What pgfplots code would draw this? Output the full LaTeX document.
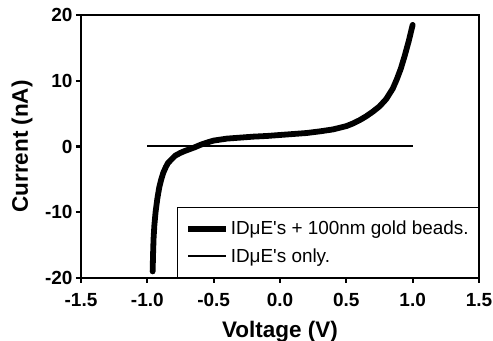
\documentclass[border=0pt]{standalone}
\usepackage{fontspec}
\setmainfont{Liberation Sans}[Ligatures=TeXOff]
\usepackage{pgfplots}
\pgfplotsset{compat=1.18}
\begin{document}
\begin{tikzpicture}
\begin{axis}[
  name=ax,
  scale only axis,
  width=398pt, height=263pt,
  xmin=-1.5, xmax=1.5, ymin=-20, ymax=20,
  xtick={-1.5,-1,-0.5,0,0.5,1,1.5},
  ytick={-20,-10,0,10,20},
  axis line style={line width=2.6pt},
  tick style={line width=2.2pt, black},
  tick align=outside,
  major tick length=5pt,
  xtick pos=bottom, ytick pos=left,
  /pgf/number format/assume math mode=true,
  xticklabel style={font=\fontsize{19}{22}\selectfont\bfseries, /pgf/number format/fixed, /pgf/number format/precision=1, /pgf/number format/fixed zerofill, yshift=-7pt},
  yticklabel style={font=\fontsize{19}{22}\selectfont\bfseries},
  xlabel={Voltage (V)}, ylabel={Current (nA)},
  label style={font=\fontsize{22.5}{26}\selectfont\bfseries},
  xlabel style={at={(axis description cs:0.5,0)}, anchor=center, yshift=-54pt},
  ylabel style={at={(axis description cs:0,0.5)}, anchor=center, yshift=59pt},
  legend style={at={(1,0)}, anchor=south east, draw=black, line width=0.8pt,
    font=\fontsize{18.9}{22}\selectfont, inner xsep=8pt, inner ysep=12pt, row sep=8pt,
    nodes={inner xsep=2pt}},
  legend cell align=left,
  legend image post style={xscale=2.2, line cap=butt},
]
\addplot[black, line width=5.8pt, line join=round, line cap=round] coordinates {
(-0.96,-19) (-0.957,-16.5) (-0.953,-14) (-0.947,-12) (-0.938,-10) (-0.925,-8)
(-0.91,-6.2) (-0.895,-5) (-0.88,-4.0) (-0.86,-3.1) (-0.844,-2.5) (-0.82,-2.0)
(-0.79,-1.4) (-0.754,-1.0) (-0.72,-0.7) (-0.68,-0.4) (-0.64,-0.1) (-0.6,0.25)
(-0.55,0.6) (-0.5,0.9) (-0.45,1.05) (-0.4,1.2) (-0.3,1.35) (-0.2,1.5)
(-0.1,1.6) (0.0,1.75) (0.1,1.9) (0.2,2.05) (0.3,2.3) (0.4,2.6) (0.5,3.1)
(0.55,3.5) (0.6,4.0) (0.65,4.6) (0.7,5.3) (0.75,6.1) (0.8,7.2) (0.85,8.8)
(0.88,10.2) (0.91,11.8) (0.94,13.8) (0.97,16) (1.0,18.5)
};
\addlegendentry{IDμE's + 100nm gold beads.}
\addplot[black, line width=2pt] coordinates {(-1.0,0) (1.0,0)};
\addlegendentry{IDμE's only.}
\end{axis}
\pgfresetboundingbox
\path ([shift={(-81pt,-63pt)}]ax.south west) rectangle ([shift={(14pt,15pt)}]ax.north east);
\end{tikzpicture}
\end{document}
